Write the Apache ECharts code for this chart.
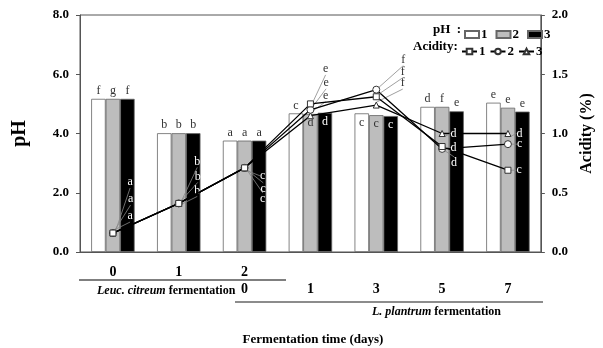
<!DOCTYPE html>
<html>
<head>
<meta charset="utf-8">
<script src="https://cdn.jsdelivr.net/npm/echarts@6/dist/echarts.min.js"></script>
<style>
  html, body { margin: 0; padding: 0; background: #fff; }
  #chart { width: 603px; height: 348px; }
</style>
</head>
<body>
<div id="chart"></div>
<script>
// categories: Leuc. citreum days 0,1,2 then L. plantrum days (0 = day 2 of Leuc.), 1,3,5,7
const leucDays = ['0', '1', '2'];
const plantDays = ['0', '1', '3', '5', '7'];
const categories = ['L0', 'L1', 'L2', 'P1', 'P3', 'P5', 'P7'];

// pH values (bars)
const ph1 = [5.17, 4.01, 3.76, 4.68, 4.68, 4.90, 5.04];
const ph2 = [5.17, 4.01, 3.76, 4.66, 4.62, 4.90, 4.87];
const ph3 = [5.17, 4.01, 3.76, 4.70, 4.59, 4.75, 4.74];
const phLetters1 = ['f', 'b', 'a', 'c', 'c', 'd', 'e'];
const phLetters2 = ['g', 'b', 'a', 'd', 'c', 'f', 'e'];
const phLetters3 = ['f', 'b', 'a', 'd', 'c', 'e', 'e'];

// acidity values (lines)
const acid1 = [0.16, 0.41, 0.71, 1.25, 1.31, 0.89, 0.69];
const acid2 = [0.16, 0.41, 0.71, 1.20, 1.37, 0.87, 0.91];
const acid3 = [0.16, 0.41, 0.71, 1.15, 1.24, 1.00, 1.00];
const acidLetters1 = ['a', 'b', 'c', 'e', 'f', 'd', 'c'];
const acidLetters2 = ['a', 'b', 'c', 'e', 'f', 'd', 'c'];
const acidLetters3 = ['a', 'b', 'c', 'e', 'f', 'd', 'd'];

// label placement (pixels) for the acidity letters
const acidOffsets = [
  [[8, -51], [9, -42], [9, 8], [6, -35], [18, -25], [2, 1], [2, 0]],
  [[8, -34], [9, -27], [9, 21], [6, -27], [18, -30], [2, 14], [2, 0]],
  [[8, -17], [9, -13], [9, 31], [6, -20], [18, -22], [2, 0], [2, 0]]
];
// which bar letters sit inside the top of the bar
const insideBars = [[4], [3, 4], [3, 4]];
// acidity letters that sit on the black bars
const onBlack = [0, 1, 2, 5, 6];

const serif = '"Liberation Serif", "DejaVu Serif", serif';
const chart = echarts.init(document.getElementById('chart'));

function barSeries(name, values, letters, fill, idx) {
  return {
    name: name,
    type: 'bar',
    yAxisIndex: 0,
    barGap: '0%',
    barCategoryGap: '34%',
    itemStyle: { color: fill, borderColor: '#666', borderWidth: 0.8 },
    label: {
      show: true, position: 'top', distance: 2,
      fontFamily: serif, fontSize: 12, color: '#333',
      formatter: p => letters[p.dataIndex]
    },
    data: values.map((v, i) => insideBars[idx].includes(i)
      ? { value: v, label: { position: 'insideTop', distance: 3, color: idx === 2 ? '#fff' : '#333' } }
      : v)
  };
}

function lineSeries(name, values, letters, symbol, idx) {
  return {
    name: name,
    type: 'line',
    yAxisIndex: 1,
    symbol: symbol,
    symbolSize: symbol === 'circle' ? 7 : 6,
    z: 5 - idx,
    lineStyle: { color: '#000', width: 1.3 },
    itemStyle: { color: '#fff', borderColor: '#333', borderWidth: 1 },
    label: {
      show: true, position: 'right', distance: 3,
      fontFamily: serif, fontSize: 12, color: '#333',
      formatter: p => letters[p.dataIndex]
    },
    labelLine: { show: true, length2: 0, lineStyle: { color: '#888', width: 0.8 } },
    labelLayout: p => ({ dx: acidOffsets[idx][p.dataIndex][0], dy: acidOffsets[idx][p.dataIndex][1] }),
    data: values.map((v, i) => onBlack.includes(i) ? { value: v, label: { color: '#fff' } } : v)
  };
}

const option = {
  animation: false,
  grid: { left: 80, right: 57, top: 15, bottom: 96, show: true, borderColor: '#555', borderWidth: 1 },
  legend: [
    {
      data: ['pH 1', 'pH 2', 'pH 3'],
      icon: 'rect',
      left: 459, top: 23,
      itemWidth: 14, itemHeight: 7, itemGap: 8,
      formatter: n => n.slice(-1),
      textStyle: { fontFamily: serif, fontWeight: 'bold', fontSize: 13, color: '#000', padding: [0, 0, 0, -3] }
    },
    {
      data: ['Acidity 1', 'Acidity 2', 'Acidity 3'],
      left: 456, top: 40,
      itemWidth: 15, itemHeight: 7, itemGap: 4,
      formatter: n => n.slice(-1),
      textStyle: { fontFamily: serif, fontWeight: 'bold', fontSize: 13, color: '#000', padding: [0, 0, 0, -3] }
    }
  ],
  xAxis: {
    type: 'category',
    data: categories,
    axisTick: { show: false },
    axisLine: { lineStyle: { color: '#555' } },
    axisLabel: {
      margin: 12,
      formatter: (v, i) => {
        const top = i < leucDays.length ? leucDays[i] : ' ';
        const bottom = i >= 2 ? plantDays[i - 2] : ' ';
        return '{t|' + top + '}\n{b|' + bottom + '}';
      },
      rich: {
        t: { fontFamily: serif, fontWeight: 'bold', fontSize: 14, color: '#000', lineHeight: 17 },
        b: { fontFamily: serif, fontWeight: 'bold', fontSize: 14, color: '#000', lineHeight: 17 }
      }
    }
  },
  yAxis: [
    {
      type: 'value', min: 0, max: 8, interval: 2,
      name: 'pH', nameLocation: 'middle', nameRotate: 90, nameGap: 50,
      nameTextStyle: { fontFamily: serif, fontWeight: 'bold', fontSize: 20, color: '#000' },
      splitLine: { show: false },
      axisLine: { show: true, lineStyle: { color: '#555' } },
      axisTick: { show: true, length: 4, lineStyle: { color: '#555' } },
      axisLabel: { margin: 11, fontFamily: serif, fontWeight: 'bold', fontSize: 13, color: '#000', formatter: v => v.toFixed(1) }
    },
    {
      type: 'value', min: 0, max: 2, interval: 0.5,
      name: 'Acidity (%)', nameLocation: 'middle', nameRotate: 90, nameGap: 38,
      nameTextStyle: { fontFamily: serif, fontWeight: 'bold', fontSize: 16, color: '#000' },
      splitLine: { show: false },
      axisLine: { show: true, lineStyle: { color: '#555' } },
      axisTick: { show: true, length: 4, lineStyle: { color: '#555' } },
      axisLabel: { margin: 11, fontFamily: serif, fontWeight: 'bold', fontSize: 13, color: '#000', formatter: v => v.toFixed(1) }
    }
  ],
  graphic: [
    { type: 'text', left: 433, top: 23, style: { text: 'pH  :', fontFamily: serif, fontWeight: 'bold', fontSize: 13, fill: '#000' } },
    { type: 'text', left: 413, top: 40, style: { text: 'Acidity:', fontFamily: serif, fontWeight: 'bold', fontSize: 13, fill: '#000' } },
    { type: 'line', shape: { x1: 79, y1: 280, x2: 286, y2: 280 }, style: { stroke: '#555', lineWidth: 1.5 } },
    { type: 'line', shape: { x1: 235, y1: 302, x2: 543, y2: 302 }, style: { stroke: '#666', lineWidth: 1.5 } },
    {
      type: 'text', left: 97, top: 285,
      style: {
        text: '{i|Leuc. citreum} fermentation',
        fontFamily: serif, fontWeight: 'bold', fontSize: 12, fill: '#000',
        rich: { i: { fontFamily: serif, fontWeight: 'bold', fontStyle: 'italic', fontSize: 12, fill: '#000' } }
      }
    },
    {
      type: 'text', left: 372, top: 306,
      style: {
        text: '{i|L. plantrum} fermentation',
        fontFamily: serif, fontWeight: 'bold', fontSize: 12, fill: '#000',
        rich: { i: { fontFamily: serif, fontWeight: 'bold', fontStyle: 'italic', fontSize: 12, fill: '#000' } }
      }
    },
    {
      type: 'text', x: 313, y: 340,
      style: { text: 'Fermentation time (days)', fontFamily: serif, fontWeight: 'bold', fontSize: 13, fill: '#000', align: 'center', verticalAlign: 'middle' }
    }
  ],
  series: [
    barSeries('pH 1', ph1, phLetters1, '#ffffff', 0),
    barSeries('pH 2', ph2, phLetters2, '#bdbdbd', 1),
    barSeries('pH 3', ph3, phLetters3, '#000000', 2),
    lineSeries('Acidity 1', acid1, acidLetters1, 'rect', 0),
    lineSeries('Acidity 2', acid2, acidLetters2, 'circle', 1),
    lineSeries('Acidity 3', acid3, acidLetters3, 'triangle', 2)
  ]
};

chart.setOption(option);
</script>
</body>
</html>
